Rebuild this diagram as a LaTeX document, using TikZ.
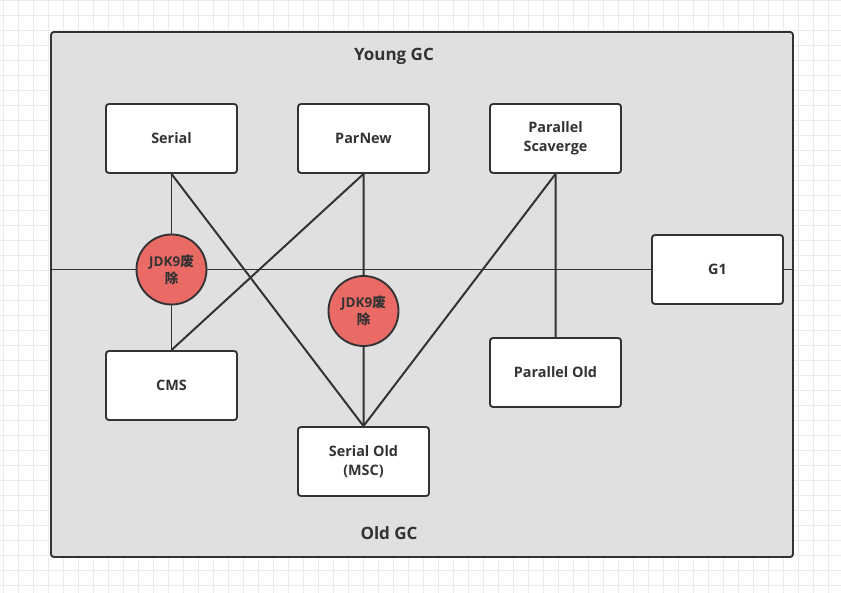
\documentclass[tikz,border=0pt]{standalone}
\usepackage{fontspec}
\setmainfont{Open Sans}
\newfontfamily\cjk{Noto Sans CJK SC}
\usetikzlibrary{positioning}

\definecolor{inkgray}{HTML}{333333}
\definecolor{areagray}{HTML}{E0E0E0}
\definecolor{dropred}{HTML}{EA6B66}
\definecolor{gridgray}{HTML}{EBEBEB}

\tikzset{
  gcarea/.style={rectangle,rounded corners=2.5pt,draw=inkgray,line width=1.6pt,fill=areagray,
    minimum width=22.26cm,minimum height=15.75cm,inner sep=0pt},
  gcbox/.style={rectangle,rounded corners=2.5pt,draw=inkgray,line width=1.6pt,fill=white,
    minimum width=3.93cm,minimum height=2.07cm,align=center,text=inkgray,
    font=\fontsize{12.3}{16}\selectfont\bfseries},
  dropmark/.style={circle,draw=inkgray,line width=1.6pt,fill=dropred,minimum size=2.1cm,
    inner sep=0pt,align=center,text=inkgray,font=\fontsize{11.5}{14.5}\selectfont\bfseries},
  gcline/.style={draw=inkgray,line width=1.7pt},
  gctitle/.style={text=inkgray,font=\fontsize{14.5}{17}\selectfont\bfseries}
}

\begin{document}
\begin{tikzpicture}[x=0.03cm,y=-0.03cm]
\useasboundingbox[fill=white] (0,0) rectangle (841,593);
% background grid
\foreach \gx in {3,18,...,843} \draw[gridgray,line width=0.6pt] (\gx,0) -- (\gx,593);
\foreach \gy in {0.5,15.5,...,593} \draw[gridgray,line width=0.6pt] (0,\gy) -- (841,\gy);

\node[gcarea] (area) at (422,294.5) {};
\node[gctitle] (young) at (394,56) {Young GC};
\node[gctitle] (old) at (389,533) {Old GC};

% young generation
\node[gcbox] (serial) at (171.5,138.5) {Serial};
\node[gcbox,right=1.774cm of serial] (parnew) {ParNew};
\node[gcbox,right=1.774cm of parnew] (scavenge) {Parallel\\Scaverge};
\node[gcbox] (g1) at (717.5,269.5) {G1};

% old generation
\node[gcbox] (cms) at (171.5,385.5) {CMS};
\node[gcbox] (serialold) at (363.5,461.5) {Serial Old\\(MSC)};
\node[gcbox] (parold) at (555.5,372.5) {Parallel Old};

% pairings
\draw[gcline] (area.west |- g1.west) -- (g1.west);
\draw[gcline] (g1.east) -- (area.east |- g1.east);
\draw[gcline] (serial.south) -- (cms.north);
\draw[gcline] (serial.south) -- (serialold.north);
\draw[gcline] (parnew.south) -- (cms.north);
\draw[gcline] (parnew.south) -- (serialold.north);
\draw[gcline] (scavenge.south) -- (serialold.north);
\draw[gcline] (scavenge.south) -- (parold.north);

% removed in JDK9
\node[dropmark] (dropA) at (serial |- g1) {JDK9{\cjk 废}\\{\cjk 除}};
\node[dropmark] (dropB) at (363.5,311) {JDK9{\cjk 废}\\{\cjk 除}};

\end{tikzpicture}
\end{document}
